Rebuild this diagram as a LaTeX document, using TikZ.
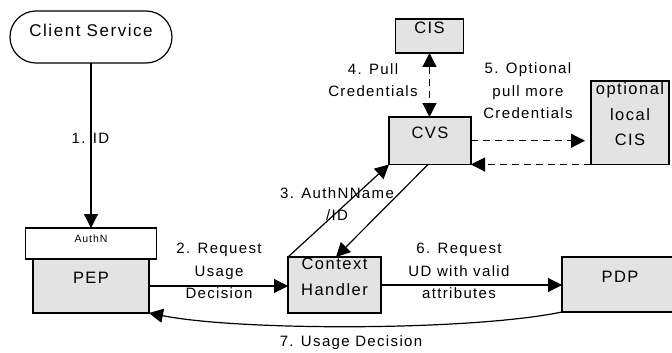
\documentclass[tikz,border=0pt]{standalone}
\usepackage{fontspec}
\setmainfont[LetterSpace=9]{Liberation Sans}
\usetikzlibrary{arrows.meta,calc}
\definecolor{boxgray}{HTML}{E3E3E3}
\begin{document}
\begin{tikzpicture}[x=1pt,y=-1pt,
  every node/.style={inner sep=0pt, outer sep=0pt},
  gbox/.style={draw, line width=1.2pt, fill=boxgray},
  wbox/.style={draw, line width=1.2pt, fill=white},
  lbl/.style={font=\fontsize{15}{22.5}\selectfont, align=center},
  btxt/.style={font=\fontsize{16.5}{25}\selectfont, align=center},
  conn/.style={line width=1.2pt},
  arr/.style={conn, -{Triangle[length=14pt,width=14pt]}},
  darr/.style={conn, dash pattern=on 7pt off 5pt, -{Triangle[length=14pt,width=14pt]}},
  ddarr/.style={conn, dash pattern=on 7pt off 5pt, {Triangle[length=14pt,width=14pt]}-{Triangle[length=14pt,width=14pt]}}
]
\useasboundingbox (0,0) rectangle (672,353);
% boxes
\node[wbox, minimum width=162pt, minimum height=52pt, rounded corners=26pt] (cs) at (91,37) {};
\node[btxt, font=\fontsize{17}{20}\selectfont] (cstxt) at (91,30) {Client Service};
\node[wbox, minimum width=131pt, minimum height=31pt] (auth) at (91,243.5) {};
\node[font=\fontsize{10.5}{12}\selectfont] (authtxt) at (91,239) {AuthN};
\node[gbox, minimum width=116pt, minimum height=54pt] (pep) at (91,286) {};
\node[btxt] (peptxt) at (91,278) {PEP};
\node[gbox, minimum width=93pt, minimum height=56pt] (ch) at (334.5,285) {};
\node[btxt] (chtxt1) at (334.5,264) {Context};
\node[btxt] (chtxt2) at (334.5,290) {Handler};
\node[gbox, minimum width=118pt, minimum height=55pt] (pdp) at (621,284.5) {};
\node[btxt] (pdptxt) at (620,277) {PDP};
\node[gbox, minimum width=68pt, minimum height=34pt] (cis) at (429.5,36) {};
\node[btxt] (cistxt) at (429.5,28) {CIS};
\node[gbox, minimum width=82pt, minimum height=47.5pt] (cvs) at (430,140.75) {};
\node[btxt] (cvstxt) at (430,133) {CVS};
\node[gbox, minimum width=78pt, minimum height=83.5pt] (loc) at (630,122.75) {};
\node[btxt] (loctxt1) at (630,90) {optional};
\node[btxt] (loctxt2) at (630,115) {local};
\node[btxt] (loctxt3) at (630,140) {CIS};
% labels
\node[lbl] (l1) at (90.5,138) {1. ID};
\node[lbl] (l2) at (219,271) {2. Request\\Usage\\Decision};
\node[lbl] (l3) at (337,204) {3. AuthNName\\/ID};
\node[lbl] (l4) at (373,80) {4. Pull\\Credentials};
\node[lbl] (l5) at (528,91) {5. Optional\\pull more\\Credentials};
\node[lbl] (l6) at (459,271) {6. Request\\UD with valid\\attributes};
\node[lbl] (l7) at (351,343) {7. Usage Decision};
% connectors
\draw[arr] (cs.south) -- (auth.north);
\draw[arr] (pep.east) -- (ch.west |- pep.east);
\draw[arr] (ch.east) -- (pdp.west |- ch.east);
\draw[ddarr] (cis.south) -- (cis.south |- cvs.north);
\draw[darr, shorten >=6pt] (cvs.east) -- (loc.west |- cvs.east);
\draw[darr] (loc.south west) -- (cvs.south east);
\draw[arr] (ch.north west) -- (cvs.south west);
\draw[arr] ($(cvs.south west)!0.476!(cvs.south east)$) -- ($(ch.north)+(1.5,0)$);
\draw[arr] (pdp.south west) .. controls (470,331) and (240,331) .. (pep.south east);
\end{tikzpicture}
\end{document}
